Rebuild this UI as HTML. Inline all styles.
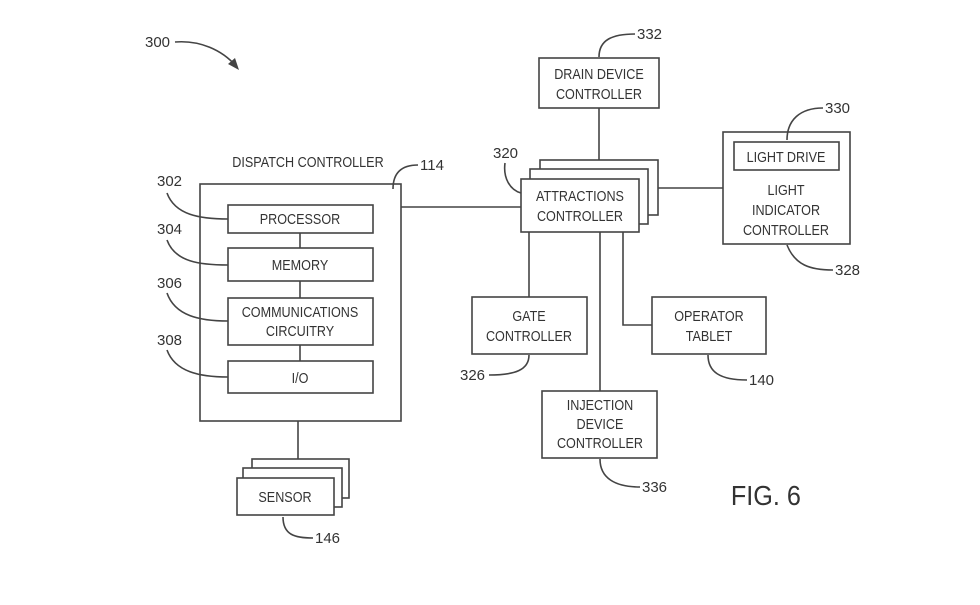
<!DOCTYPE html>
<html><head><meta charset="utf-8"><style>
html,body{margin:0;padding:0;background:#fff}
svg text{font-family:"Liberation Sans Narrow","Liberation Sans",sans-serif;fill:#333;font-size:15px}
svg g.lbl text{transform-box:fill-box;transform-origin:center;transform:scaleX(0.84)}
svg text.fig{font-size:28px;transform-box:fill-box;transform-origin:center;transform:scaleX(0.9)}
</style></head><body>
<svg width="980" height="600" viewBox="0 0 980 600" xmlns="http://www.w3.org/2000/svg">
<g fill="none" stroke="#444" stroke-width="1.6">
<rect x="200" y="184" width="201" height="237" fill="#fff"/>
<rect x="228" y="205" width="145" height="28"/>
<rect x="228" y="248" width="145" height="33"/>
<rect x="228" y="298" width="145" height="47"/>
<rect x="228" y="361" width="145" height="32"/>
<line x1="300" y1="233" x2="300" y2="248"/>
<line x1="300" y1="281" x2="300" y2="298"/>
<line x1="300" y1="345" x2="300" y2="361"/>
<line x1="298" y1="421" x2="298" y2="459"/>
<rect x="252" y="459" width="97" height="39" fill="#fff"/>
<rect x="243" y="468" width="99" height="39" fill="#fff"/>
<rect x="237" y="478" width="97" height="37" fill="#fff"/>
<line x1="401" y1="207" x2="521" y2="207"/>
<line x1="599" y1="108" x2="599" y2="160"/>
<line x1="658" y1="188" x2="723" y2="188"/>
<line x1="529" y1="232" x2="529" y2="297"/>
<line x1="600" y1="232" x2="600" y2="391"/>
<polyline points="623,232 623,325 652,325"/>
<rect x="540" y="160" width="118" height="55" fill="#fff"/>
<rect x="530" y="169" width="118" height="55" fill="#fff"/>
<rect x="521" y="179" width="118" height="53" fill="#fff"/>
<rect x="539" y="58" width="120" height="50"/>
<rect x="723" y="132" width="127" height="112"/>
<rect x="734" y="142" width="105" height="28"/>
<rect x="472" y="297" width="115" height="57"/>
<rect x="652" y="297" width="114" height="57"/>
<rect x="542" y="391" width="115" height="67"/>
<path d="M167,193 C175,215 200,219 228,219"/>
<path d="M167,240 C175,262 200,265 228,265"/>
<path d="M167,293 C175,316 200,321 228,321"/>
<path d="M167,350 C175,372 200,377 228,377"/>
<path d="M393,189 C393,170 405,165 418,165"/>
<path d="M283,517 C283,535 295,538 313,538"/>
<path d="M599,57 C599,40 612,34 635,34"/>
<path d="M787,140 C787,120 800,108 823,108"/>
<path d="M787,245 C795,265 810,270 833,270"/>
<path d="M708,355 C708,372 720,380 747,380"/>
<path d="M600,459 C600,478 615,487 640,487"/>
<path d="M529,355 C529,370 515,375 489,375"/>
<path d="M505,163 C503,178 510,190 521,193"/>
<path d="M175,42 C200,40 222,50 236,66"/>
</g>
<path d="M239,70 L228,64 L235,58 Z" fill="#444"/>
<g class="lbl" text-anchor="middle">
<text x="308" y="167">DISPATCH  CONTROLLER</text>
<text x="300" y="224">PROCESSOR</text>
<text x="300" y="270">MEMORY</text>
<text x="300" y="317">COMMUNICATIONS</text>
<text x="300" y="336">CIRCUITRY</text>
<text x="300" y="383">I/O</text>
<text x="285" y="502">SENSOR</text>
<text x="599" y="79">DRAIN  DEVICE</text>
<text x="599" y="99">CONTROLLER</text>
<text x="580" y="201">ATTRACTIONS</text>
<text x="580" y="221">CONTROLLER</text>
<text x="786" y="162">LIGHT  DRIVE</text>
<text x="786" y="195">LIGHT</text>
<text x="786" y="215">INDICATOR</text>
<text x="786" y="235">CONTROLLER</text>
<text x="529" y="321">GATE</text>
<text x="529" y="341">CONTROLLER</text>
<text x="709" y="321">OPERATOR</text>
<text x="709" y="341">TABLET</text>
<text x="600" y="410">INJECTION</text>
<text x="600" y="429">DEVICE</text>
<text x="600" y="448">CONTROLLER</text>
</g>
<text x="145" y="47">300</text>
<text x="157" y="186">302</text>
<text x="157" y="234">304</text>
<text x="157" y="288">306</text>
<text x="157" y="345">308</text>
<text x="420" y="170">114</text>
<text x="315" y="543">146</text>
<text x="637" y="39">332</text>
<text x="825" y="113">330</text>
<text x="835" y="275">328</text>
<text x="749" y="385">140</text>
<text x="642" y="492">336</text>
<text x="460" y="380">326</text>
<text x="493" y="158">320</text>
<text class="fig" x="727" y="505">FIG. 6</text>
</svg>
</body></html>
